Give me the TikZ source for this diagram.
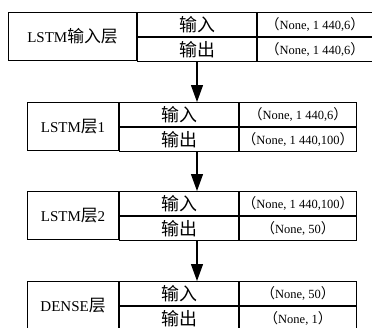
\documentclass[tikz,border=0pt]{standalone}
\usepackage{fontspec}
\setmainfont{Liberation Serif}
\newfontfamily\cjk[Scale=1.12]{Noto Sans CJK SC}
\usetikzlibrary{positioning,arrows.meta}

\begin{document}
\begin{tikzpicture}[x=1pt,y=-1pt,
		every node/.style={
			draw,
			line width=1pt,
			inner sep=0pt,
			minimum height=24pt
		},
		layer/.style={minimum height=48pt,font=\fontsize{15}{15}\selectfont},
		io/.style={minimum width=119pt,font=\fontsize{16}{16}\selectfont\cjk},
		dims/.style={font=\fontsize{12.5}{12.5}\selectfont},
		arr/.style={line width=1.2pt,-{Triangle[length=17pt,width=12pt]}}
		]
		\useasboundingbox (0,0) rectangle (372,327);
		
		% LSTM input layer
		\node[layer,minimum width=128pt,anchor=north west] (L0) at (8,12) {LSTM{\cjk 输入层}};
		\node[io,anchor=north west] (i0) at (L0.north east) {输入};
		\node[io,below=0pt of i0] (o0) {输出};
		\node[dims,minimum width=115pt,right=0pt of i0] (si0) {{\cjk （}None, 1~440,6{\cjk ）}};
		\node[dims,minimum width=115pt,right=0pt of o0] (so0) {{\cjk （}None, 1~440,6{\cjk ）}};
		
		% LSTM layer 1
		\node[layer,minimum width=91pt,anchor=north west] (L1) at (27,102) {LSTM{\cjk 层}1};
		\node[io,anchor=north west] (i1) at (L1.north east) {输入};
		\node[io,below=0pt of i1] (o1) {输出};
		\node[dims,minimum width=117pt,right=0pt of i1] (si1) {{\cjk （}None, 1~440,6{\cjk ）}};
		\node[dims,minimum width=117pt,right=0pt of o1] (so1) {{\cjk （}None, 1~440,100{\cjk ）}};
		
		% LSTM layer 2
		\node[layer,minimum width=91pt,anchor=north west] (L2) at (27,191) {LSTM{\cjk 层}2};
		\node[io,anchor=north west] (i2) at (L2.north east) {输入};
		\node[io,below=0pt of i2] (o2) {输出};
		\node[dims,minimum width=117pt,right=0pt of i2] (si2) {{\cjk （}None, 1~440,100{\cjk ）}};
		\node[dims,minimum width=117pt,right=0pt of o2] (so2) {{\cjk （}None, 50{\cjk ）}};
		
		% dense layer
		\node[layer,minimum width=91pt,anchor=north west] (L3) at (27,281) {DENSE{\cjk 层}};
		\node[io,anchor=north west] (i3) at (L3.north east) {输入};
		\node[io,below=0pt of i3] (o3) {输出};
		\node[dims,minimum width=117pt,right=0pt of i3] (si3) {{\cjk （}None, 50{\cjk ）}};
		\node[dims,minimum width=117pt,right=0pt of o3] (so3) {{\cjk （}None, 1{\cjk ）}};
		
		\coordinate (ax) at (197,0);
		\draw[arr] (o0.south -| ax) -- (L1.north -| ax);
		\draw[arr] (o1.south -| ax) -- (L2.north -| ax);
		\draw[arr] (o2.south -| ax) -- (L3.north -| ax);
		
	\end{tikzpicture}
\end{document}
